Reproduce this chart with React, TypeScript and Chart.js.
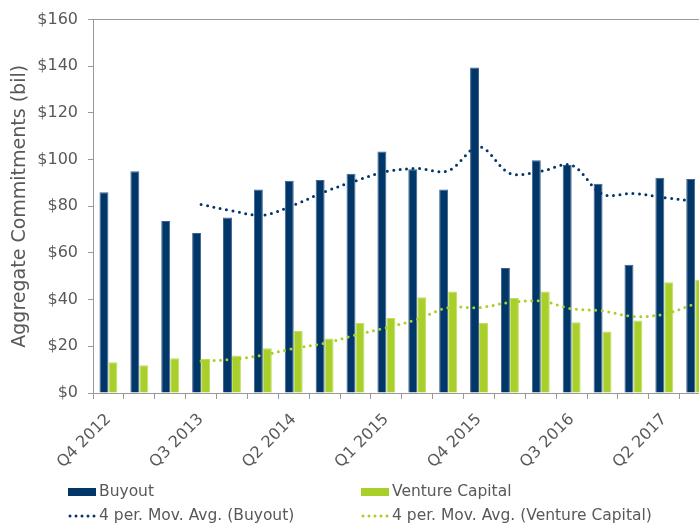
import React, { useEffect, useRef } from "react";
import { Chart, registerables } from "chart.js";

Chart.register(...registerables);

const categories = [
  "Q4 2012", "Q1 2013", "Q2 2013", "Q3 2013", "Q4 2013",
  "Q1 2014", "Q2 2014", "Q3 2014", "Q4 2014", "Q1 2015",
  "Q2 2015", "Q3 2015", "Q4 2015", "Q1 2016", "Q2 2016",
  "Q3 2016", "Q4 2016", "Q1 2017", "Q2 2017", "Q3 2017",
];
const shownLabels = ["Q4 2012", "Q3 2013", "Q2 2014", "Q1 2015", "Q4 2015", "Q3 2016", "Q2 2017"];

const buyout = [86, 95, 73.7, 68.6, 75.2, 87.2, 90.9, 91.3, 94, 103.5, 95.9, 87.2, 139.5, 53.6, 99.7, 97.7, 89.7, 55, 92.2, 91.7];
const ventureCapital = [13.2, 11.9, 14.9, 14.6, 16.1, 19.2, 26.6, 23.3, 30.0, 32.1, 41.0, 43.5, 30.0, 40.7, 43.5, 30.3, 26.3, 31.1, 47.5, 48.5];
const buyoutMovAvg = [null, null, null, 80.8, 78.1, 76.2, 80.5, 86.2, 90.9, 94.9, 96.2, 95.2, 105.5, 94.1, 95, 97.6, 85.2, 85.5, 83.7, 82.2];
const vcMovAvg = [null, null, null, 13.7, 14.4, 16.2, 19.1, 21.3, 24.8, 28, 31.6, 36.6, 36.6, 38.8, 39.4, 36.1, 35.2, 32.8, 33.8, 38.3];
const yTicks = [0, 20, 40, 60, 80, 100, 120, 140, 160];

const NAVY = "#003768";
const NAVY_EDGE = "#3d6290";
const GREEN = "#a9cf2a";
const GREEN_EDGE = "#c2de62";
const TEXT = "#595959";
const AXIS = "#999999";
const FONT = "'DejaVu Sans', Verdana, sans-serif";

const legendPlugin = {
  id: "customLegend",
  afterDraw(chart: any) {
    const ctx = chart.ctx;
    ctx.save();
    ctx.font = `15.5px ${FONT}`;
    ctx.fillStyle = TEXT;
    ctx.textBaseline = "alphabetic";
    ctx.textAlign = "left";
    const items = [
      { x: 68, label: "Buyout", color: NAVY, kind: "box" },
      { x: 361, label: "Venture Capital", color: GREEN, kind: "box" },
      { x: 68, label: "4 per. Mov. Avg. (Buyout)", color: NAVY, kind: "dots" },
      { x: 361, label: "4 per. Mov. Avg. (Venture Capital)", color: GREEN, kind: "dots" },
    ];
    items.forEach((it) => {
      if (it.kind === "box") {
        ctx.fillStyle = it.color;
        ctx.fillRect(it.x, 488, 28, 8);
        ctx.fillStyle = TEXT;
        ctx.fillText(it.label, it.x + 31, 496);
      } else {
        ctx.fillStyle = it.color;
        for (let i = 0; i < 5; i++) {
          ctx.beginPath();
          ctx.arc(it.x + 2 + i * 6, 516, 1.5, 0, Math.PI * 2);
          ctx.fill();
        }
        ctx.fillStyle = TEXT;
        ctx.fillText(it.label, it.x + 31, 520);
      }
    });
    ctx.restore();
  },
};

export default function App() {
  const ref = useRef<HTMLCanvasElement | null>(null);
  useEffect(() => {
    if (!ref.current) return;
    const chart = new Chart(ref.current, {
      type: "bar",
      data: {
        labels: categories,
        datasets: [
          {
            type: "line",
            label: "4 per. Mov. Avg. (Buyout)",
            data: buyoutMovAvg,
            borderColor: NAVY,
            borderWidth: 3,
            borderDash: [0, 6.5],
            borderCapStyle: "round",
            pointRadius: 0,
            tension: 0.35,
            fill: false,
            order: 0,
          },
          {
            type: "line",
            label: "4 per. Mov. Avg. (Venture Capital)",
            data: vcMovAvg,
            borderColor: GREEN,
            borderWidth: 3,
            borderDash: [0, 6.5],
            borderCapStyle: "round",
            pointRadius: 0,
            tension: 0.35,
            fill: false,
            order: 0,
          },
          {
            label: "Buyout",
            data: buyout,
            backgroundColor: NAVY,
            borderColor: NAVY_EDGE,
            borderWidth: 1,
            categoryPercentage: 0.58,
            barPercentage: 1,
            order: 1,
          },
          {
            label: "Venture Capital",
            data: ventureCapital,
            backgroundColor: GREEN,
            borderColor: GREEN_EDGE,
            borderWidth: 1,
            categoryPercentage: 0.58,
            barPercentage: 1,
            order: 1,
          },
        ] as any,
      },
      options: {
        responsive: false,
        animation: false,
        layout: { padding: { left: 0, right: 9, top: 18, bottom: 0 } },
        plugins: {
          legend: { display: false },
          tooltip: { enabled: false },
        },
        scales: {
          x: {
            grid: {
              offset: true,
              drawOnChartArea: false,
              color: AXIS,
              tickLength: 6,
            },
            border: { color: AXIS, width: 1 },
            ticks: {
              autoSkip: false,
              minRotation: 45,
              maxRotation: 45,
              color: TEXT,
              font: { family: FONT, size: 16 },
              padding: 11,
              callback: (_v: any, i: number) =>
                shownLabels.includes(categories[i]) ? categories[i] : "",
            },
            afterFit: (s: any) => {
              s.height = 132;
            },
          },
          y: {
            min: 0,
            max: 160,
            afterBuildTicks: (s: any) => {
              s.ticks = yTicks.map((v) => ({ value: v }));
            },
            grid: {
              color: (c: any) => (c.tick && c.tick.value === 160 ? AXIS : "rgba(0,0,0,0)"),
              tickColor: AXIS,
              tickLength: 5,
            },
            border: { color: AXIS, width: 1 },
            ticks: {
              color: TEXT,
              font: { family: FONT, size: 16 },
              padding: 10,
              callback: (v: any) => "$" + v,
            },
            title: {
              display: true,
              text: "Aggregate Commitments (bil)",
              color: TEXT,
              font: { family: FONT, size: 19 },
              padding: { top: 9, bottom: 0 },
            },
            afterFit: (s: any) => {
              s.width = 93;
            },
          },
        },
      },
      plugins: [legendPlugin],
    });
    return () => chart.destroy();
  }, []);

  return (
    <div
      style={{
        position: "fixed",
        left: 0,
        top: 0,
        width: 699,
        height: 525,
        overflow: "hidden",
        background: "#fff",
      }}
    >
      <canvas ref={ref} width={720} height={525} style={{ display: "block" }} />
    </div>
  );
}
